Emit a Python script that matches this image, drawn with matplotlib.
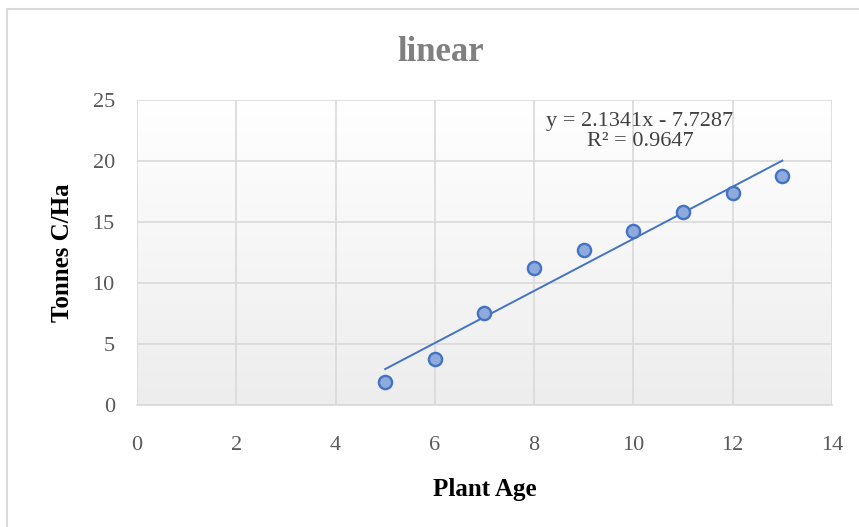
import matplotlib.pyplot as plt
import numpy as np
from matplotlib.patches import Rectangle

# Данные
plant_age = [5, 6, 7, 8, 9, 10, 11, 12, 13]
tonnes_c = [1.9, 3.75, 7.55, 11.2, 12.7, 14.3, 15.8, 17.4, 18.8]
equation = "y = 2.1341x - 7.7287"
r_squared = "R² = 0.9647"

plt.rcParams['font.family'] = ['Liberation Serif', 'DejaVu Serif']

fig = plt.figure(figsize=(8.59, 5.27), dpi=100)
ax = fig.add_axes([0.1595, 0.2315, 0.809, 0.5787])

# рамка вокруг диаграммы
fig.patches.append(Rectangle((7 / 859, -0.1), 1.2, 1 - 9 / 527 + 0.1, transform=fig.transFigure,
                             fill=False, edgecolor='#d9d9d9', linewidth=1.5))

# градиентный фон области построения
grad = np.linspace(0, 1, 256).reshape(-1, 1)
ax.imshow(grad, extent=[0, 14, 0, 25], aspect='auto', cmap=plt.matplotlib.colors.LinearSegmentedColormap.from_list(
    'g', ['#ffffff', '#ededed']), origin='upper', zorder=0)

ax.set_xlim(0, 14)
ax.set_ylim(0, 25)
ax.set_xticks(range(0, 15, 2))
ax.set_yticks(range(0, 26, 5))
ax.grid(True, color='#d9d9d9', linewidth=1.2, zorder=1)
ax.set_axisbelow(True)
for s in ['top', 'right', 'left']:
    ax.spines[s].set_visible(False)
ax.spines['bottom'].set_color('#d9d9d9')
ax.spines['bottom'].set_linewidth(1.2)
ax.tick_params(length=0, labelsize=16, labelcolor='#595959')
ax.tick_params(axis='x', pad=22)
ax.tick_params(axis='y', pad=16)

# линия тренда
k, b = np.polyfit(plant_age, tonnes_c, 1)
xs = np.array([plant_age[0], plant_age[-1]])
ax.plot(xs, k * xs + b, color='#4472c4', linewidth=1.4, zorder=3)

ax.plot(plant_age, tonnes_c, 'o', markersize=9.5, markerfacecolor='#8faadc',
        markeredgecolor='#4472c4', markeredgewidth=1.7, zorder=4)

ax.text(10.13, 22.4, equation + "\n" + r_squared, ha='center', va='center',
        fontsize=16, color='#404040', linespacing=1.1, zorder=5)

fig.text(0.513, 0.9, "linear", ha='center', va='center', fontsize=25,
         fontweight='bold', color='#808080')
ax.set_xlabel("Plant Age", fontsize=18, fontweight='bold', labelpad=17)
ax.set_ylabel("Tonnes C/Ha", fontsize=18, fontweight='bold', labelpad=13)

fig.savefig("out.png", dpi=100)
